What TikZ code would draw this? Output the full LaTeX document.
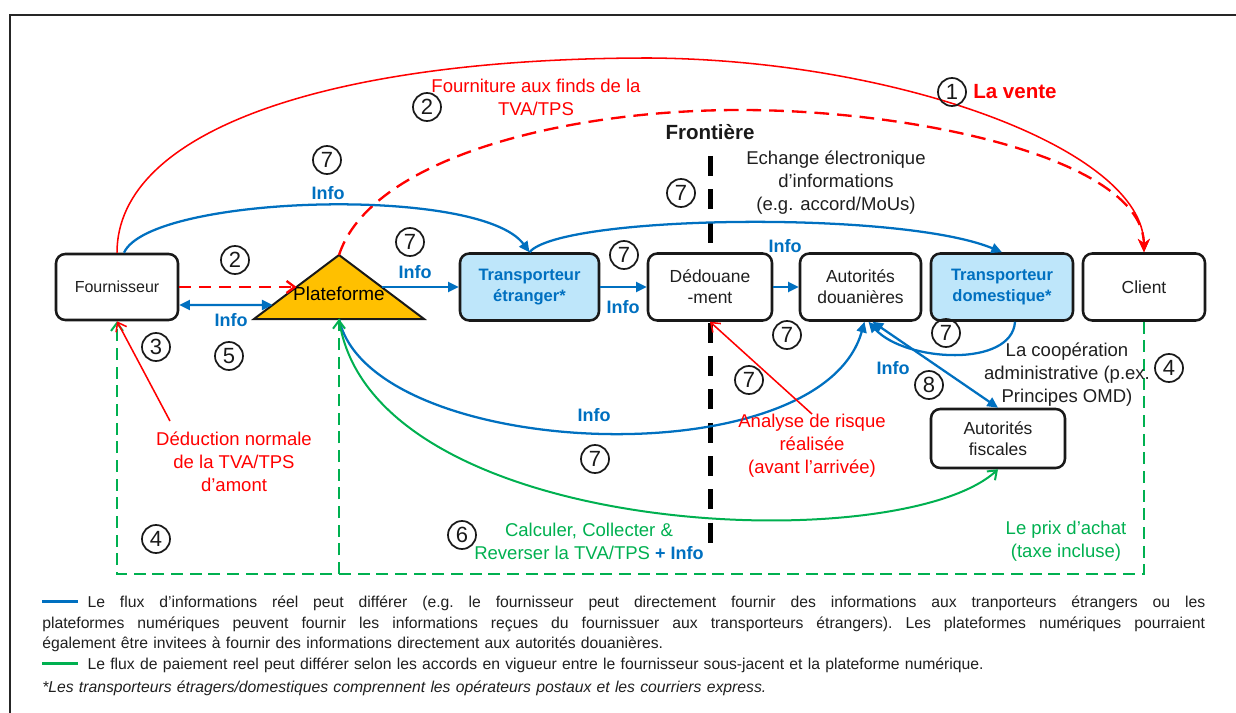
\documentclass[tikz,border=0pt]{standalone}
\usepackage{fontspec}
\setmainfont{Liberation Sans}
\usetikzlibrary{arrows.meta,calc}

\definecolor{cblue}{HTML}{0070C0}
\definecolor{cred}{HTML}{FF0000}
\definecolor{cgreen}{HTML}{00B050}
\definecolor{corange}{HTML}{FFC000}
\definecolor{cfill}{HTML}{BEE6FA}
\definecolor{ctext}{HTML}{1F1F1F}

% font sizes (1 unit = 0.75pt)
\newcommand\myann{\fontsize{13.9pt}{17.3pt}\selectfont}
\newcommand\mybox{\fontsize{13.1pt}{15.75pt}\selectfont}
\newcommand\mysup{\fontsize{12pt}{15pt}\selectfont}
\newcommand\mytr{\bfseries\fontsize{12.4pt}{15.75pt}\selectfont}
\newcommand\myinfo{\bfseries\fontsize{13.5pt}{16pt}\selectfont}
\newcommand\mybig{\bfseries\fontsize{15.4pt}{18pt}\selectfont}
\newcommand\myplat{\fontsize{14.2pt}{17pt}\selectfont}
\newcommand\myleg{\fontsize{11.8pt}{15.4pt}\selectfont}
\newcommand\mynum{\fontsize{16.5pt}{17pt}\selectfont}
% a legend line spread over the full legend width
\newcommand\myjust[1]{\hbox to 872.25pt{\spaceskip=0.278em plus 2em minus 0.05em\relax
  \xspaceskip=\spaceskip #1}}

\begin{document}
\begin{tikzpicture}[x=0.75pt,y=-0.75pt,
  sz/.style 2 args={minimum width=#1*0.75pt, minimum height=#2*0.75pt},
  box/.style={draw=black!90, line width=1.9pt, rounded corners=7pt, fill=white,
    align=center, inner sep=0pt, text=ctext, font=\mybox},
  trbox/.style={box, fill=cfill, text=cblue, font=\mytr},
  num/.style={circle, draw=black!90, line width=1.3pt, minimum size=28*0.75pt,
    inner sep=0pt, font=\mynum, text=black!90},
  ann/.style={align=center, font=\myann, text=ctext, inner sep=0pt},
  info/.style={font=\myinfo, text=cblue, inner sep=0pt},
  bl/.style={draw=cblue, line width=1.7pt},
  btip/.style={-{Triangle[length=8pt,width=7.5pt]}},
  redthin/.style={draw=cred, line width=1.15pt},
  reddash/.style={draw=cred, line width=1.75pt, dash pattern=on 11pt off 6pt},
  gr/.style={draw=cgreen, line width=1.5pt},
  grdash/.style={draw=cgreen, line width=1.5pt, dash pattern=on 9pt off 5pt},
  vtip/.style={-{Straight Barb[length=6pt,width=9pt]}},
]
\useasboundingbox (0,0) rectangle (1236,713);

% frame
\draw[line width=2pt, draw=black!85] (10,713) -- (10,15) -- (1236,15);

% border line
\draw[line width=3.75pt, dash pattern=on 15pt off 10pt] (710,156) -- (710,553);

% main row of actors
\node[box, font=\mysup, sz={122}{66}] (sup) at (117,287) {Fournisseur};
\node[trbox, sz={139}{67}] (te) at (529.5,287) {Transporteur\\étranger*};
\node[box, sz={124}{67}] (ded) at (710,287) {Dédouane\\-ment};
\node[box, sz={121}{67}] (ad) at (860.5,287) {Autorités\\douanières};
\node[trbox, sz={142}{67}] (td) at (1002,287) {Transporteur\\domestique*};
\node[box, sz={122}{67}] (cli) at (1144,287) {Client};
\node[box, sz={134}{59}] (af) at (998,438.5) {Autorités\\fiscales};

% platform triangle
\coordinate (apex) at (339,255);
\coordinate (platL) at (254,319);
\coordinate (platR) at (424,319);
\coordinate (platB) at (339,319);
\draw[fill=corange, draw=black!90, line width=1.5pt, line join=miter] (platL) -- (apex) -- (platR) -- cycle;
\node[font=\myplat, text=black, inner sep=0pt] (plat) at (339,294) {Plateforme};

% sale (red)
\draw[redthin, -{Stealth[length=10pt,width=9pt]}] (sup.north)
  .. controls (117,130) and (330,58) .. (650,58)
  .. controls (900,60) and (1143,150) .. (cli.north);
\draw[reddash, -{Stealth[length=10pt,width=9pt]}] (apex)
  .. controls (370,160) and (560,110) .. (740,110)
  .. controls (920,110) and (1143,160) .. (cli.north);
\draw[reddash, dash pattern=on 9pt off 6pt, vtip] (sup.east) -- ($(platL)!0.5!(apex)$);

% information flows (blue)
\draw[bl, btip] ($(sup.north)+(7,0)$) .. controls (150,195) and (480,185) .. (te.north);
\draw[bl, btip] (te.north) .. controls (560,215) and (900,210) .. (td.north);
\draw[bl, {Triangle[length=8pt,width=7.5pt]}-{Triangle[length=8pt,width=7.5pt]}]
  ($(sup.east)+(0,18)$) -- ($(platL)!0.219!(apex)$);
\draw[bl, btip] ($(platR)!0.5!(apex)$) -- (te.west);
\draw[bl, btip] (te.east) -- (ded.west);
\draw[bl, btip] (ded.east) -- (ad.west);
\draw[bl, btip] (platB) .. controls (370,460) and (820,480) .. ($(ad.south)+(4,0)$);
\draw[bl, btip] ($(td.south)+(13,0)$) .. controls (1012,368) and (905,362) .. ($(ad.south)+(8,0)$);
\draw[bl, {Triangle[length=8pt,width=7.5pt]}-{Triangle[length=8pt,width=7.5pt]}]
  ($(ad.south)+(12,0)$) -- (af.north);

% payment flows (green)
\draw[gr, vtip] (platB) .. controls (370,540) and (900,560) .. (af.south);
\coordinate (gl) at (117,574);
\coordinate (gm) at (339,574);
\draw[grdash, vtip] (cli.south) |- (gl) -- (sup.south);
\draw[grdash, vtip] (gm) -- (platB);

% annotations
\node[ann, text=cred] (four) at (536,97) {Fourniture aux finds de la\\TVA/TPS};
\node[font=\mybig, text=cred, anchor=west, inner sep=0pt] (vente) at (973,92) {La vente};
\node[font=\mybig, text=black!90, inner sep=0pt] (front) at (710,132) {Frontière};
\node[ann] (ech) at (836,183) {Echange électronique\\d’informations\\(e.g. accord/MoUs)};
\node[ann, text=cred] (deduc) at (234,462) {Déduction normale\\de la TVA/TPS\\d’amont};
\node[ann, text=cred] (risk) at (812,446) {Analyse de risque\\réalisée\\(avant l’arrivée)};
\node[ann] (coop) at (1067,375) {La coopération\\administrative (p.ex.\\Principes OMD)};
\node[ann, text=cgreen] (prix) at (1066,541) {Le prix d’achat\\(taxe incluse)};
\node[ann, text=cgreen] (calc) at (589,541) {Calculer, Collecter \&\\Reverser la TVA/TPS {\myinfo\color{cblue}+ Info}};

% pointers
\coordinate (dedsrc) at (170,421);
\draw[redthin, vtip] (dedsrc) -- (sup.south);
\draw[redthin, vtip] (risk.north) -- (ded.south);

% info labels
\node[info] (i1) at (328,193) {Info};
\node[info] (i2) at (415,272) {Info};
\node[info] (i3) at (623,307) {Info};
\node[info] (i4) at (785,246) {Info};
\node[info] (i5) at (231,320) {Info};
\node[info] (i6) at (594,415) {Info};
\node[info] (i7) at (893,368) {Info};

% step numbers
\node[num] (n1) at (952,92) {1};
\node[num] (n2a) at (427,107) {2};
\node[num] (n7a) at (327,160) {7};
\node[num] (n7b) at (681,193) {7};
\node[num] (n7c) at (410,242) {7};
\node[num] (n7d) at (624,255) {7};
\node[num] (n2b) at (235,260) {2};
\node[num] (n3) at (156,347) {3};
\node[num] (n5) at (229,356) {5};
\node[num] (n4a) at (156,539) {4};
\node[num] (n7e) at (787,335) {7};
\node[num] (n7f) at (749,380) {7};
\node[num] (n7g) at (595,459) {7};
\node[num] (n6) at (462,535) {6};
\node[num] (n7h) at (946,333) {7};
\node[num] (n8) at (929,385) {8};
\node[num] (n4b) at (1169,368) {4};

% legend
\node[anchor=north west, inner sep=0pt, text width=1163*0.75pt, font=\myleg,
  text=ctext, align=left] (leg) at (42,596) {%
\myjust{\textcolor{cblue}{\rule[3.5pt]{27pt}{2.2pt}}\hspace{7pt}Le flux d’informations réel peut différer (e.g. le fournisseur peut directement fournir des informations aux tranporteurs étrangers ou les}
\myjust{plateformes numériques peuvent fournir les informations reçues du fournissuer aux transporteurs étrangers). Les plateformes numériques pourraient}
également être invitees à fournir des informations directement aux autorités douanières.\\
\textcolor{cgreen}{\rule[3.5pt]{27pt}{2.2pt}}\hspace{7pt}Le flux de paiement reel peut différer selon les accords en vigueur entre le fournisseur sous-jacent et la plateforme numérique.\\[2pt]
\textit{*Les transporteurs étragers/domestiques comprennent les opérateurs postaux et les courriers express.}};
\end{tikzpicture}
\end{document}
